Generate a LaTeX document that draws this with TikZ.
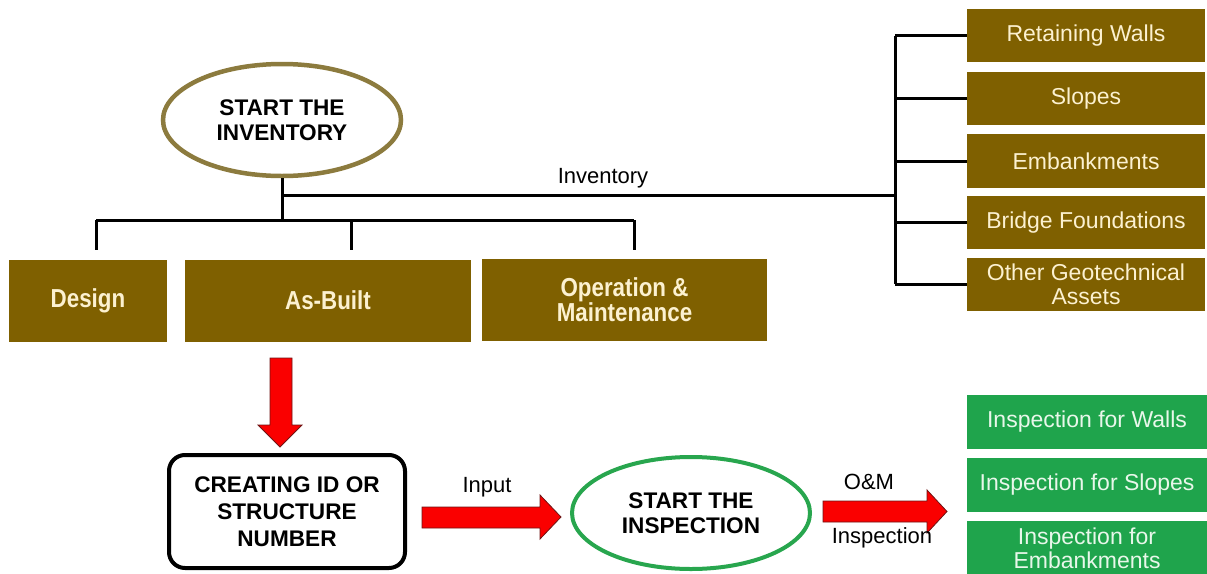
\documentclass[tikz,border=0pt]{standalone}
\usepackage{fontspec}
\setmainfont{Liberation Sans}
\newfontfamily\narrowbold[FakeStretch=0.86,BoldFont={Liberation Sans Bold}]{Liberation Sans Bold}
\usetikzlibrary{shapes.geometric}

\definecolor{olivebox}{RGB}{127,96,0}
\definecolor{cream}{RGB}{252,241,208}
\definecolor{ringbrown}{RGB}{140,123,62}
\definecolor{gbox}{RGB}{31,164,76}
\definecolor{gtext}{RGB}{232,247,234}
\definecolor{ringgreen}{RGB}{40,166,78}
\definecolor{arrowred}{RGB}{250,0,0}
\definecolor{arrowedge}{RGB}{110,20,20}

\begin{document}
\begin{tikzpicture}[x=1pt,y=-1pt,
  conn/.style={line width=3pt, black, line cap=butt},
  asset/.style={fill=olivebox, text=cream, font=\fontsize{23}{24}\selectfont,
    align=center, minimum width=238pt, minimum height=53pt, inner sep=0pt},
  phase/.style={fill=olivebox, text=cream, font=\narrowbold\fontsize{26}{25}\selectfont,
    align=center, minimum height=82pt, inner sep=0pt},
  check/.style={fill=gbox, text=gtext, font=\fontsize{23}{24}\selectfont,
    align=center, minimum width=240pt, minimum height=54pt, inner sep=0pt},
  oval/.style={ellipse, line width=4.5pt, fill=white, align=center,
    minimum width=238pt, minimum height=112pt, inner sep=0pt,
    font=\bfseries\fontsize{22.6}{25}\selectfont},
  blockarrow/.style={fill=arrowred, draw=arrowedge, line width=0.8pt, line join=miter},
  lbl/.style={font=\fontsize{22}{23}\selectfont, inner sep=0pt}
]
\useasboundingbox (0,0) rectangle (1207,573);

% start of the inventory
\node[oval, draw=ringbrown] (inv) at (282,120) {START THE\\INVENTORY};

% asset types on the right
\node[asset] (a1) at (1086,35.5) {Retaining Walls};
\node[asset] (a2) at (1086,98.5) {Slopes};
\node[asset, minimum height=54pt] (a3) at (1086,161) {Embankments};
\node[asset] (a4) at (1086,222.5) {Bridge Foundations};
\node[asset] (a5) at (1086,284) {Other Geotechnical\\Assets};

% data sources
\node[phase, minimum width=158pt] (design) at (88,300.5) {Design};
\node[phase, minimum width=286pt] (asbuilt) at (328,300.5) {As-Built};
\node[phase, minimum width=285pt] (om) at (624.5,300) {Operation \&\\Maintenance};

% identification and inspection
\node[draw=black, line width=4pt, rounded corners=16pt, minimum width=236pt,
  minimum height=113pt, inner sep=0pt, align=center,
  font=\bfseries\fontsize{22.6}{27}\selectfont] (ident) at (287,511.5)
  {CREATING ID OR\\STRUCTURE\\NUMBER};
\node[oval, draw=ringgreen, line width=4pt] (insp) at (691,513) {START THE\\INSPECTION};

\node[check] (g1) at (1087,422) {Inspection for Walls};
\node[check] (g2) at (1087,485) {Inspection for Slopes};
\node[check] (g3) at (1087,548) {Inspection for\\Embankments};

% tree of connectors
\coordinate (main) at (0,195);
\coordinate (bar) at (0,220);
\coordinate (rail) at (895,0);
\coordinate (d1) at (96,250);
\coordinate (d2) at (351,250);
\coordinate (d3) at (634,250);

\draw[conn] (inv.south) -- (inv.south |- bar);
\draw[conn] (inv.south |- main) -- (rail |- main);
\draw[conn] (rail |- a1) -- (rail |- a5);
\foreach \i in {1,...,5}
  \draw[conn] (rail |- a\i) -- (a\i.west);
\draw[conn] (d1 |- bar) -- (d3 |- bar);
\foreach \d in {d1,d2,d3}
  \draw[conn] (\d |- bar) -- (\d);

\node[lbl] (invlbl) at (603,178) {Inventory};

% block arrows
\draw[blockarrow] (270,358) -- (292,358) -- (292,425) -- (302,425) -- (280,447)
  -- (258,425) -- (270,425) -- cycle;
\draw[blockarrow] (422,507) -- (540,507) -- (540,495) -- (561,517) -- (540,539)
  -- (540,528) -- (422,528) -- cycle;
\draw[blockarrow] (823,501) -- (927,501) -- (927,490) -- (947,511.5) -- (927,533)
  -- (927,522) -- (823,522) -- cycle;

\node[lbl] (inlbl) at (487,487) {Input};
\node[lbl] (omlbl) at (869,482) {O\&M};
\node[lbl] (inslbl) at (882,538) {Inspection};
\end{tikzpicture}
\end{document}
